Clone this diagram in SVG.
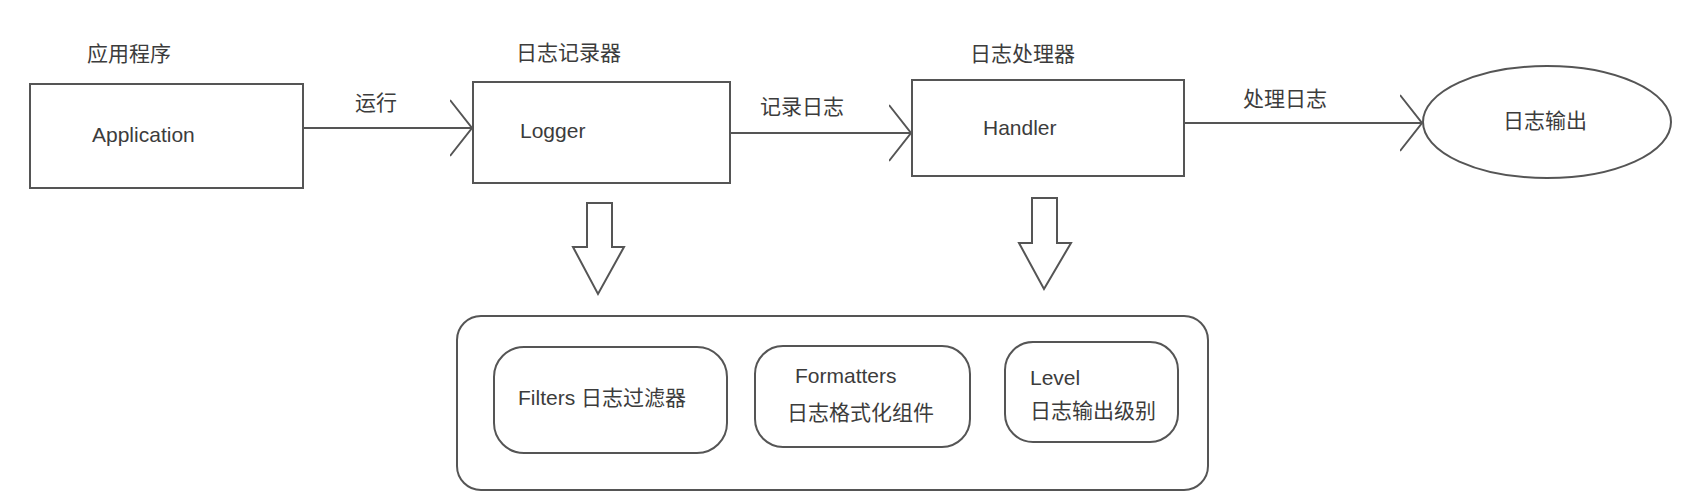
<svg xmlns="http://www.w3.org/2000/svg" width="1700" height="492" viewBox="0 0 1700 492">
  <style>
    .shape { fill: #ffffff; stroke: #555555; stroke-width: 2; }
    .line { fill: none; stroke: #555555; stroke-width: 2; }
    .t { font-family: "Liberation Sans", "Noto Sans CJK SC", sans-serif; font-size: 21px; fill: #3c3c3c; }
    .c { font-family: "Noto Sans CJK SC", "Liberation Sans", sans-serif; font-size: 21px; fill: #3c3c3c; }
  </style>
  <defs>
    <marker id="open" viewBox="0 0 24 58" markerUnits="userSpaceOnUse" markerWidth="24" markerHeight="58" refX="22" refY="29" orient="auto">
      <path d="M0,1 L22,29 L0,57" fill="none" stroke="#555555" stroke-width="2"/>
    </marker>
  </defs>
  <rect width="1700" height="492" fill="#ffffff"/>

  <g id="connectors">
    <line class="line" x1="304" y1="128" x2="472" y2="128" marker-end="url(#open)"/>
    <text class="c" x="355" y="110">运行</text>
    <line class="line" x1="730" y1="133" x2="911" y2="133" marker-end="url(#open)"/>
    <text class="c" x="760" y="114">记录日志</text>
    <line class="line" x1="1184" y1="123" x2="1422" y2="123" marker-end="url(#open)"/>
    <text class="c" x="1243" y="106">处理日志</text>
    <polygon class="shape" points="587,203 612,203 612,247 624,247 598,294 573,247 587,247"/>
    <polygon class="shape" points="1032,198 1057,198 1057,243 1071,243 1044,289 1019,243 1032,243"/>
  </g>

  <g id="application">
    <text class="c" x="87" y="61" font-size="22">应用程序</text>
    <rect class="shape" x="30" y="84" width="273" height="104"/>
    <text class="t" x="92" y="142">Application</text>
  </g>

  <g id="logger">
    <text class="c" x="516" y="60" font-size="22">日志记录器</text>
    <rect class="shape" x="473" y="82" width="257" height="101"/>
    <text class="t" x="520" y="138">Logger</text>
  </g>

  <g id="handler">
    <text class="c" x="970" y="61" font-size="22">日志处理器</text>
    <rect class="shape" x="912" y="80" width="272" height="96"/>
    <text class="t" x="983" y="135">Handler</text>
  </g>

  <g id="output">
    <ellipse class="shape" cx="1547" cy="122" rx="124" ry="56"/>
    <text class="c" x="1503" y="128" font-size="22">日志输出</text>
  </g>

  <g id="components">
    <rect class="shape" x="457" y="316" width="751" height="174" rx="24"/>
  </g>

  <g id="filters">
    <rect class="shape" x="494" y="347" width="233" height="106" rx="30"/>
    <text class="c" x="518" y="405"><tspan class="t">Filters </tspan>日志过滤器</text>
  </g>

  <g id="formatters">
    <rect class="shape" x="755" y="346" width="215" height="101" rx="28"/>
    <text class="t" x="795" y="383">Formatters</text>
    <text class="c" x="787" y="420" font-size="22">日志格式化组件</text>
  </g>

  <g id="level">
    <rect class="shape" x="1005" y="342" width="173" height="100" rx="28"/>
    <text class="t" x="1030" y="385">Level</text>
    <text class="c" x="1030" y="418" font-size="22">日志输出级别</text>
  </g>
</svg>
